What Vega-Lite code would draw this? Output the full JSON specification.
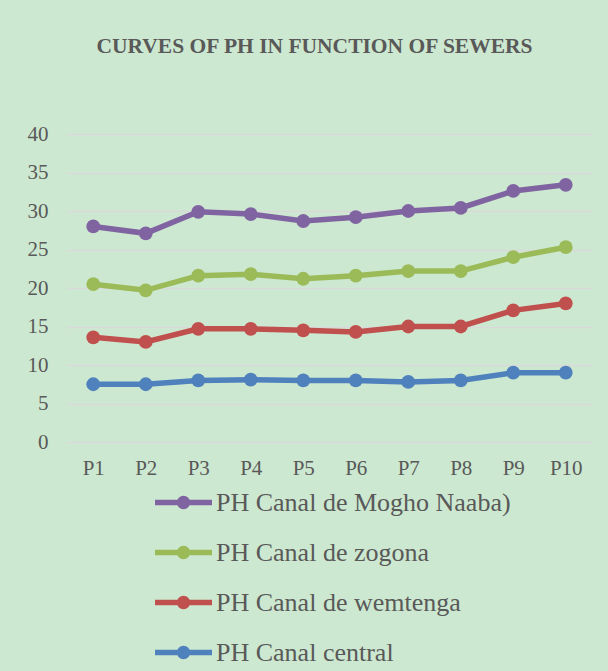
{
  "$schema": "https://vega.github.io/schema/vega-lite/v6.json",
  "autosize": "none",
  "width": 525,
  "height": 308,
  "padding": {"left": 67, "top": 134, "right": 16, "bottom": 229},
  "background": "#cde8d0",
  "title": {
    "text": "CURVES OF PH IN FUNCTION OF SEWERS",
    "font": "Liberation Serif",
    "fontSize": 21.5,
    "fontWeight": "bold",
    "color": "#595959",
    "anchor": "middle",
    "dx": -15,
    "offset": 66
  },
  "data": {
    "values": [
      {"p": "P1", "s": "PH Canal central", "k": 1, "v": 7.5},
      {"p": "P2", "s": "PH Canal central", "k": 1, "v": 7.5},
      {"p": "P3", "s": "PH Canal central", "k": 1, "v": 8.0},
      {"p": "P4", "s": "PH Canal central", "k": 1, "v": 8.1},
      {"p": "P5", "s": "PH Canal central", "k": 1, "v": 8.0},
      {"p": "P6", "s": "PH Canal central", "k": 1, "v": 8.0},
      {"p": "P7", "s": "PH Canal central", "k": 1, "v": 7.8},
      {"p": "P8", "s": "PH Canal central", "k": 1, "v": 8.0},
      {"p": "P9", "s": "PH Canal central", "k": 1, "v": 9.0},
      {"p": "P10", "s": "PH Canal central", "k": 1, "v": 9.0},
      {"p": "P1", "s": "PH Canal de wemtenga", "k": 2, "v": 6.1},
      {"p": "P2", "s": "PH Canal de wemtenga", "k": 2, "v": 5.5},
      {"p": "P3", "s": "PH Canal de wemtenga", "k": 2, "v": 6.7},
      {"p": "P4", "s": "PH Canal de wemtenga", "k": 2, "v": 6.6},
      {"p": "P5", "s": "PH Canal de wemtenga", "k": 2, "v": 6.5},
      {"p": "P6", "s": "PH Canal de wemtenga", "k": 2, "v": 6.3},
      {"p": "P7", "s": "PH Canal de wemtenga", "k": 2, "v": 7.2},
      {"p": "P8", "s": "PH Canal de wemtenga", "k": 2, "v": 7.0},
      {"p": "P9", "s": "PH Canal de wemtenga", "k": 2, "v": 8.1},
      {"p": "P10", "s": "PH Canal de wemtenga", "k": 2, "v": 9.0},
      {"p": "P1", "s": "PH Canal de zogona", "k": 3, "v": 6.9},
      {"p": "P2", "s": "PH Canal de zogona", "k": 3, "v": 6.7},
      {"p": "P3", "s": "PH Canal de zogona", "k": 3, "v": 6.9},
      {"p": "P4", "s": "PH Canal de zogona", "k": 3, "v": 7.1},
      {"p": "P5", "s": "PH Canal de zogona", "k": 3, "v": 6.7},
      {"p": "P6", "s": "PH Canal de zogona", "k": 3, "v": 7.3},
      {"p": "P7", "s": "PH Canal de zogona", "k": 3, "v": 7.2},
      {"p": "P8", "s": "PH Canal de zogona", "k": 3, "v": 7.2},
      {"p": "P9", "s": "PH Canal de zogona", "k": 3, "v": 6.9},
      {"p": "P10", "s": "PH Canal de zogona", "k": 3, "v": 7.3},
      {"p": "P1", "s": "PH Canal de Mogho Naaba)", "k": 4, "v": 7.5},
      {"p": "P2", "s": "PH Canal de Mogho Naaba)", "k": 4, "v": 7.4},
      {"p": "P3", "s": "PH Canal de Mogho Naaba)", "k": 4, "v": 8.3},
      {"p": "P4", "s": "PH Canal de Mogho Naaba)", "k": 4, "v": 7.8},
      {"p": "P5", "s": "PH Canal de Mogho Naaba)", "k": 4, "v": 7.5},
      {"p": "P6", "s": "PH Canal de Mogho Naaba)", "k": 4, "v": 7.6},
      {"p": "P7", "s": "PH Canal de Mogho Naaba)", "k": 4, "v": 7.8},
      {"p": "P8", "s": "PH Canal de Mogho Naaba)", "k": 4, "v": 8.2},
      {"p": "P9", "s": "PH Canal de Mogho Naaba)", "k": 4, "v": 8.6},
      {"p": "P10", "s": "PH Canal de Mogho Naaba)", "k": 4, "v": 8.1}
    ]
  },
  "transform": [
    {"stack": "v", "groupby": ["p"], "sort": [{"field": "k", "order": "ascending"}], "as": ["v0", "v1"]}
  ],
  "encoding": {
    "x": {
      "field": "p",
      "type": "ordinal",
      "sort": ["P1", "P2", "P3", "P4", "P5", "P6", "P7", "P8", "P9", "P10"],
      "scale": {"paddingInner": 0, "paddingOuter": 0},
      "axis": {
        "title": null,
        "labelAngle": 0,
        "domain": false,
        "ticks": false,
        "labelFont": "Liberation Serif",
        "labelFontSize": 21,
        "labelColor": "#595959",
        "labelPadding": 15
      }
    },
    "y": {
      "field": "v1",
      "type": "quantitative",
      "scale": {"domain": [0, 40], "nice": false},
      "axis": {
        "title": null,
        "values": [0, 5, 10, 15, 20, 25, 30, 35, 40],
        "domain": false,
        "ticks": false,
        "grid": true,
        "gridColor": "#d9d9d9",
        "gridWidth": 1.5,
        "labelFont": "Liberation Serif",
        "labelFontSize": 21,
        "labelColor": "#595959",
        "labelPadding": 19
      }
    },
    "color": {
      "field": "s",
      "type": "nominal",
      "scale": {
        "domain": ["PH Canal de Mogho Naaba)", "PH Canal de zogona", "PH Canal de wemtenga", "PH Canal central"],
        "range": ["#8064a2", "#9bbb59", "#c0504d", "#4f81bd"]
      },
      "legend": {
        "title": null,
        "orient": "none",
        "direction": "vertical",
        "legendX": 85,
        "legendY": 337,
        "symbolType": "M-1,0H1M0.14,0A0.14,0.14 0 1,1 -0.14,0A0.14,0.14 0 1,1 0.14,0M0.05,0A0.05,0.05 0 1,1 -0.05,0A0.05,0.05 0 1,1 0.05,0",
        "symbolSize": 3249,
        "symbolStrokeWidth": 5.5,
        "labelFont": "Liberation Serif",
        "labelFontSize": 26,
        "labelColor": "#595959",
        "labelOffset": 1,
        "labelLimit": 0,
        "rowPadding": 3
      }
    }
  },
  "layer": [
    {"mark": {"type": "line", "strokeWidth": 5.5}},
    {"mark": {"type": "point", "filled": true, "size": 190, "opacity": 1}}
  ],
  "config": {"view": {"stroke": null}, "font": "Liberation Serif"}
}
